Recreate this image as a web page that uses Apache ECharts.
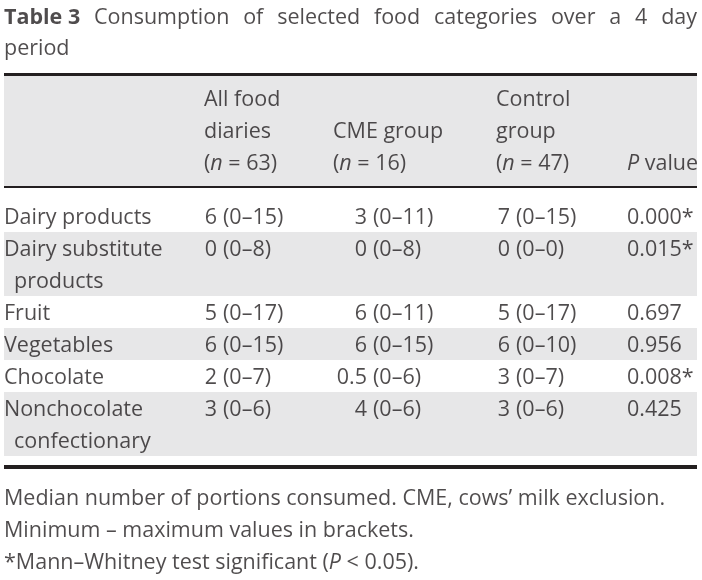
<!DOCTYPE html>
<html>
<head>
<meta charset="utf-8">
<script src="https://cdn.jsdelivr.net/npm/echarts@6/dist/echarts.min.js"></script>
<style>html,body{margin:0;padding:0;background:#fff}#c{width:702px;height:580px}</style>
</head>
<body>
<div id="c"></div>
<script>
// ---------------- data ----------------
const titleBold = "Table 3";
const titleWords = ["Consumption", "of", "selected", "food", "categories", "over", "a", "4", "day"];
const titleLine2 = "period";

const groupHeads = [["All food", "diaries"], ["", "CME group"], ["Control", "group"]];
const groupN = [63, 16, 47];
const pHeader = "{i|P} value";

const rowLabels = [
  ["Dairy products"],
  ["Dairy substitute", "products"],
  ["Fruit"],
  ["Vegetables"],
  ["Chocolate"],
  ["Nonchocolate", "confectionary"]
];
const allFoodDiaries = ["6 (0–15)", "0 (0–8)", "5 (0–17)", "6 (0–15)", "2 (0–7)", "3 (0–6)"];
const cmeGroup       = ["3 (0–11)", "0 (0–8)", "6 (0–11)", "6 (0–15)", "0.5 (0–6)", "4 (0–6)"];
const controlGroup   = ["7 (0–15)", "0 (0–0)", "5 (0–17)", "6 (0–10)", "3 (0–7)", "3 (0–6)"];
const pValues        = ["0.000*", "0.015*", "0.697", "0.956", "0.008*", "0.425"];

const footnotes = [
  "Median number of portions consumed. CME, cows’ milk exclusion.",
  "Minimum – maximum values in brackets.",
  "*Mann–Whitney test significant ({i|P} < 0.05)."
];

// ---------------- layout / style ----------------
const W = 702, H = 580;
const FONT = "'Open Sans', 'Noto Sans', sans-serif";
const FS = 21.5;
const INK = '#231f20';
const SHADE = '#e7e7e8';
const LEFT = 4, RIGHT = 697;
const textDy = 2;
const titleY = [16, 47];
const headerY0 = 98, lineH = 32, bodyY0 = 216;
const colX = [4, 204, 333, 496, 627];
const rangeX = [223, 373, 516];
const medianGap = 6;
const subIndent = 10;
const footY0 = 497;

function measure(text, weight) {
  const ctx = measure.ctx || (measure.ctx = document.createElement('canvas').getContext('2d'));
  ctx.font = (weight || 'normal') + ' ' + FS + 'px ' + FONT;
  return ctx.measureText(text).width;
}

const texts = [];
function put(x, y, text, extra) {
  texts.push(Object.assign({ value: [x, y + textDy], text: text }, extra || {}));
}

// title line 1 (justified)
const tWords = [titleBold].concat(titleWords);
const tWidths = tWords.map((w, i) => measure(w, i === 0 ? 'bold' : 'normal'));
const tGap = (RIGHT - LEFT - tWidths.reduce((a, b) => a + b, 0)) / (tWords.length - 1);
let tx = LEFT;
tWords.forEach((w, i) => {
  put(tx, titleY[0], w, i === 0 ? { label: { fontWeight: 'bold' } } : null);
  tx += tWidths[i] + tGap;
});
put(LEFT, titleY[1], titleLine2);

// header
groupHeads.forEach((lines, c) => {
  lines.forEach((t, k) => { if (t) put(colX[c + 1], headerY0 + k * lineH, t); });
  put(colX[c + 1], headerY0 + 2 * lineH, '({i|n} = ' + groupN[c] + ')');
});
put(colX[4], headerY0 + 2 * lineH, pHeader);

// body
const rowLine = [];
let ln = 0;
rowLabels.forEach((lines, r) => { rowLine.push(ln); ln += lines.length; });
const totalLines = ln;

rowLabels.forEach((lines, r) => {
  const y = bodyY0 + rowLine[r] * lineH;
  lines.forEach((t, k) => put(colX[0] + (k ? subIndent : 0), y + k * lineH, t));
  [allFoodDiaries, cmeGroup, controlGroup].forEach((arr, c) => {
    const s = arr[r];
    const sp = s.indexOf(' ');
    put(rangeX[c] - medianGap, y, s.slice(0, sp), { label: { align: 'right' } });
    put(rangeX[c], y, s.slice(sp + 1));
  });
  put(colX[4], y, pValues[r]);
});

// footnotes
footnotes.forEach((t, k) => put(LEFT, footY0 + k * lineH, t));

// rectangles: shading bands and rules
const rects = [];
const headerTop = 76, headerBottom = 186;
rects.push({ value: [LEFT, headerTop, RIGHT, headerBottom], fill: SHADE });
rowLabels.forEach((lines, r) => {
  if (r % 2 === 1) {
    const y1 = bodyY0 + rowLine[r] * lineH - lineH / 2;
    rects.push({ value: [LEFT, y1, RIGHT, y1 + lines.length * lineH], fill: SHADE });
  }
});
rects.push({ value: [LEFT, headerTop - 3, RIGHT, headerTop], fill: INK });
rects.push({ value: [LEFT, headerBottom, RIGHT, headerBottom + 2], fill: INK });
const bottomRule = bodyY0 + totalLines * lineH - lineH / 2 + 9;
rects.push({ value: [LEFT, bottomRule, RIGHT, bottomRule + 4], fill: INK });

const chart = echarts.init(document.getElementById('c'), null, { renderer: 'canvas' });
chart.setOption({
  animation: false,
  backgroundColor: '#fff',
  grid: { left: 0, right: 0, top: 0, bottom: 0 },
  xAxis: { type: 'value', min: 0, max: W, show: false },
  yAxis: { type: 'value', min: 0, max: H, inverse: true, show: false },
  series: [
    {
      type: 'custom',
      silent: true,
      clip: false,
      data: rects,
      renderItem: function (params, api) {
        const p1 = api.coord([api.value(0), api.value(1)]);
        const p2 = api.coord([api.value(2), api.value(3)]);
        return {
          type: 'rect',
          shape: { x: p1[0], y: p1[1], width: p2[0] - p1[0], height: p2[1] - p1[1] },
          style: { fill: rects[params.dataIndex].fill }
        };
      }
    },
    {
      type: 'scatter',
      silent: true,
      clip: false,
      symbolSize: 0,
      data: texts,
      label: {
        show: true,
        position: [0, 0],
        align: 'left',
        verticalAlign: 'middle',
        color: INK,
        fontFamily: FONT,
        fontSize: FS,
        formatter: function (p) { return p.data.text; },
        rich: {
          i: { fontStyle: 'italic', fontFamily: FONT, fontSize: FS, color: INK }
        }
      }
    }
  ]
});
</script>
</body>
</html>
